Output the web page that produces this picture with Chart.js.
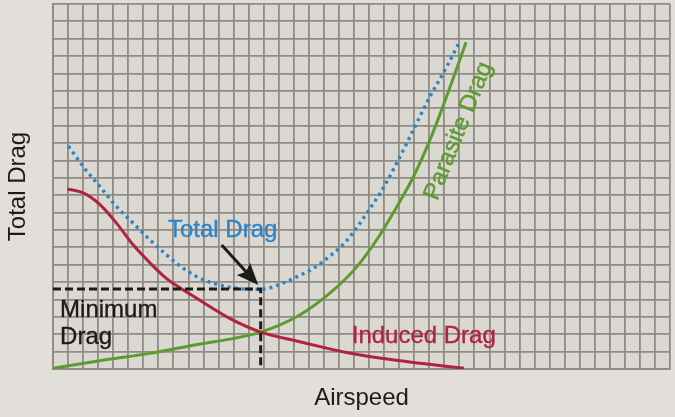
<!DOCTYPE html>
<html>
<head>
<meta charset="utf-8">
<script src="https://cdn.jsdelivr.net/npm/chart.js@4.4.1/dist/chart.umd.min.js"></script>
<style>
  html, body { margin: 0; padding: 0; background: #e2dfda; }
</style>
</head>
<body>
<canvas id="chart-drag" width="675" height="417"></canvas>
<script>
// the chart is drawn on graph paper: 41 squares across, 21 up
var gridCols = 41, gridRows = 21;

var totalSpeed = [1.02, 2.01, 3.12, 4.23, 5.34, 6.45, 7.55, 8.66, 9.77, 11.0, 12.2, 13.4, 14.3, 15.1, 16.2, 17.3, 18.4, 19.2, 19.95, 20.8, 21.73, 22.84, 23.94, 25.05, 26.16, 27.04];
var totalDrag  = [12.83, 11.64, 10.49, 9.34, 8.38, 7.42, 6.56, 5.79, 5.22, 4.85, 4.64, 4.58, 4.64, 4.88, 5.3, 5.79, 6.5, 7.1, 7.85, 8.9, 10.11, 11.84, 13.75, 15.67, 17.39, 18.87];

var parasiteSpeed = [0, 3.1, 6.45, 9.77, 11.76, 13.8, 16.4, 18.4, 20.2, 21.5, 22.85, 23.95, 25.05, 26.15, 27.45];
var parasiteDrag  = [0.04, 0.48, 0.9, 1.44, 1.72, 2.12, 3.11, 4.36, 5.89, 7.42, 9.34, 11.06, 13.18, 15.67, 18.8];

var inducedSpeed = [0.95, 2.01, 3.12, 4.23, 5.34, 6.45, 7.55, 8.66, 9.55, 10.6, 11.8, 13.8, 16.4, 19.5, 22.8, 27.3];
var inducedDrag  = [10.36, 10.13, 9.46, 8.38, 7.13, 6.1, 5.2, 4.55, 4.07, 3.5, 2.88, 2.12, 1.57, 0.95, 0.5, 0.04];

// minimum drag point (dashed guide lines)
var minSpeed = 13.8, minDrag = 4.6;

var blue = '#2b84c6', green = '#5c9b2e', red = '#b0223f', ink = '#1b1b1b';
var gridColor = '#8f8c88';
var font = '"Liberation Sans", Arial, sans-serif';

// text notes and the arrow, placed in chart units
var notes = [
    {text: 'Total Drag', x: 7.64, y: 7.61, color: blue},
    {text: 'Minimum', x: 0.47, y: 3.01, color: ink},
    {text: 'Drag', x: 0.47, y: 1.44, color: ink},
    {text: 'Induced Drag', x: 19.85, y: 1.48, color: red},
    {text: 'Parasite Drag', x: 26.95, y: 13.69, color: green, angle: -68}
];
var arrowFrom = [11.21, 7.13], arrowTo = [13.64, 4.83];

function points(xs, ys) {
    var out = [];
    for (var i = 0; i < xs.length; i++) out.push({x: xs[i], y: ys[i]});
    return out;
}

var paperPlugin = {
    id: 'paper',
    beforeDraw: function(chart) {
        var a = chart.chartArea, ctx = chart.ctx;
        ctx.save();
        ctx.fillStyle = '#dbd8d2';
        ctx.fillRect(a.left, a.top, a.right - a.left, a.bottom - a.top);
        ctx.restore();
    },
    afterDatasetsDraw: function(chart) {
        var ctx = chart.ctx, sx = chart.scales.x, sy = chart.scales.y;
        ctx.save();
        ctx.font = '24px ' + font;
        ctx.lineWidth = 0.35;
        notes.forEach(function(n) {
            var px = sx.getPixelForValue(n.x), py = sy.getPixelForValue(n.y);
            ctx.fillStyle = n.color;
            ctx.strokeStyle = n.color;
            ctx.save();
            ctx.translate(px, py);
            if (n.angle) {
                ctx.rotate(n.angle * Math.PI / 180);
                ctx.textAlign = 'center';
                ctx.textBaseline = 'middle';
            } else {
                ctx.textAlign = 'left';
                ctx.textBaseline = 'alphabetic';
            }
            ctx.fillText(n.text, 0, 0);
            ctx.strokeText(n.text, 0, 0);
            ctx.restore();
        });

        // arrow pointing at the minimum
        var x0 = sx.getPixelForValue(arrowFrom[0]), y0 = sy.getPixelForValue(arrowFrom[1]);
        var x1 = sx.getPixelForValue(arrowTo[0]), y1 = sy.getPixelForValue(arrowTo[1]);
        var len = Math.sqrt((x1 - x0) * (x1 - x0) + (y1 - y0) * (y1 - y0));
        var ux = (x1 - x0) / len, uy = (y1 - y0) / len;
        var headLen = 22, headHalf = 9;
        var bx = x1 - ux * headLen, by = y1 - uy * headLen;
        ctx.strokeStyle = ink;
        ctx.lineWidth = 3;
        ctx.beginPath();
        ctx.moveTo(x0, y0);
        ctx.lineTo(bx + ux * 4, by + uy * 4);
        ctx.stroke();
        ctx.fillStyle = ink;
        ctx.beginPath();
        ctx.moveTo(x1, y1);
        ctx.lineTo(bx - uy * headHalf, by + ux * headHalf);
        ctx.lineTo(bx + ux * 4, by + uy * 4);
        ctx.lineTo(bx + uy * headHalf, by - ux * headHalf);
        ctx.closePath();
        ctx.fill();
        ctx.restore();
    }
};

var titleFont = {family: font, size: 24, weight: 'normal'};

new Chart(document.getElementById('chart-drag'), {
    type: 'line',
    data: {
        datasets: [
            {
                label: 'Minimum Drag',
                data: points([0, minSpeed, minSpeed], [minDrag, minDrag, 0]),
                borderColor: ink,
                borderWidth: 3,
                borderDash: [8, 4],
                tension: 0
            },
            {
                label: 'Total Drag',
                data: points(totalSpeed, totalDrag),
                borderColor: blue,
                borderWidth: 3.4,
                borderDash: [3, 4],
                cubicInterpolationMode: 'monotone'
            },
            {
                label: 'Induced Drag',
                data: points(inducedSpeed, inducedDrag),
                borderColor: red,
                borderWidth: 3,
                cubicInterpolationMode: 'monotone'
            },
            {
                label: 'Parasite Drag',
                data: points(parasiteSpeed, parasiteDrag),
                borderColor: green,
                borderWidth: 3,
                cubicInterpolationMode: 'monotone'
            }
        ]
    },
    options: {
        responsive: false,
        animation: false,
        layout: {padding: {left: 0, top: 4, right: 5, bottom: 0}},
        elements: {point: {radius: 0}},
        plugins: {legend: {display: false}, tooltip: {enabled: false}},
        scales: {
            x: {
                type: 'linear',
                min: 0,
                max: gridCols,
                ticks: {display: false, stepSize: 1, maxTicksLimit: 100},
                grid: {color: gridColor, lineWidth: 1.8, drawTicks: false},
                border: {display: true, color: gridColor, width: 2},
                title: {display: true, text: 'Airspeed', color: ink, font: titleFont, padding: {top: 14.6, bottom: 4.6}}
            },
            y: {
                type: 'linear',
                min: 0,
                max: gridRows,
                ticks: {display: false, stepSize: 1, maxTicksLimit: 100},
                grid: {color: gridColor, lineWidth: 1.8, drawTicks: false},
                border: {display: true, color: gridColor, width: 2},
                title: {display: true, text: 'Total Drag', color: ink, font: titleFont, padding: {top: 4, bottom: 20.2}}
            }
        }
    },
    plugins: [paperPlugin]
});
</script>
</body>
</html>
